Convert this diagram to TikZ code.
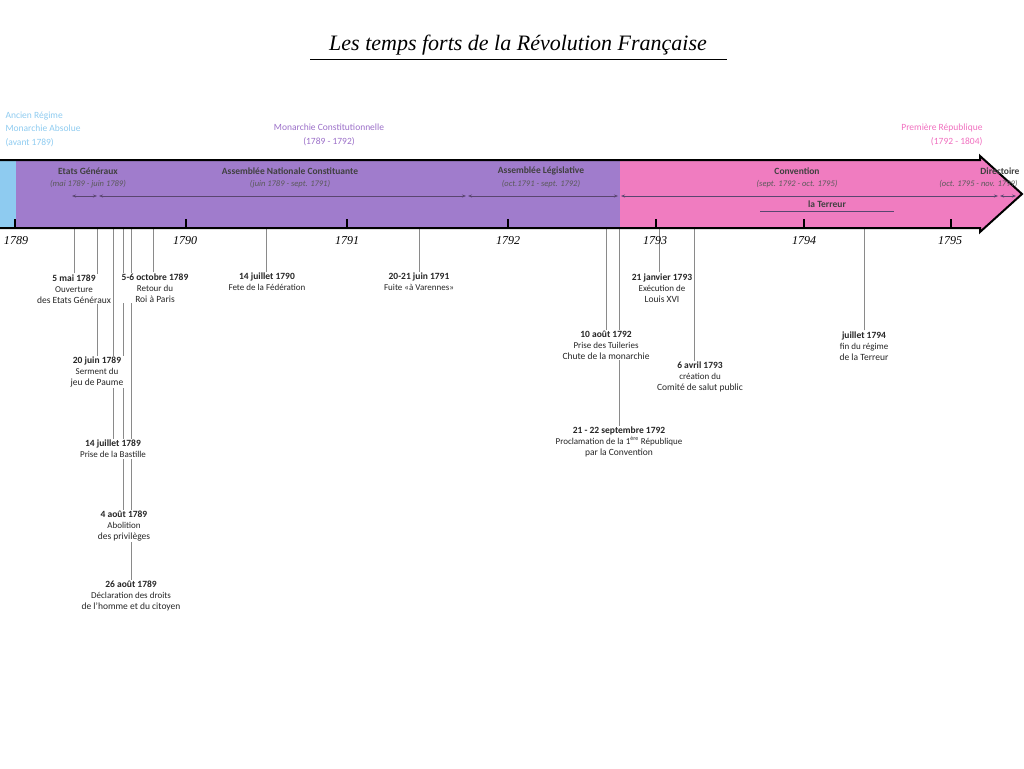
\documentclass[tikz,border=0pt]{standalone}
\usepackage{fontspec}
\setmainfont{Carlito}
\newfontfamily\titlefont{Liberation Serif}
\usetikzlibrary{arrows.meta}
\pgfdeclarelayer{bg}
\pgfsetlayers{bg,main}
\definecolor{bandpurple}{HTML}{A07CCC}
\definecolor{bandpink}{HTML}{F07CC0}
\definecolor{bandblue}{HTML}{8ECBF0}
\definecolor{txtpurple}{HTML}{9B6FC8}
\definecolor{txtpink}{HTML}{F06FBF}
\definecolor{spanc}{HTML}{5A4670}
\definecolor{evc}{HTML}{8A8A8A}
\tikzset{
  year/.style={font=\fontsize{12}{12}\selectfont\titlefont\itshape, anchor=center},
  tick/.style={line width=2pt},
  span/.style={<->, >={Stealth[length=4pt,width=3pt]}, draw=spanc, line width=0.6pt},
  evline/.style={->, >={Stealth[length=5pt,width=4pt]}, draw=evc, line width=1pt},
  evlab/.style={fill=white, align=center, inner sep=1pt, font=\fontsize{9.5}{11}\selectfont, text=black!85},
  bandtitle/.style={font=\fontsize{9.5}{10}\selectfont\bfseries, text=black!75},
  bandsub/.style={font=\fontsize{8.5}{10}\selectfont\itshape, text=black!65},
}
\newcommand{\evtxt}[2]{\textbf{#1}\\\fontsize{9}{10.5}\selectfont #2}
\begin{document}
\begin{tikzpicture}[x=1pt,y=-1pt]
\useasboundingbox (0,0) rectangle (1024,768);
% title
\node[font=\fontsize{22}{24}\selectfont\titlefont\itshape] (title) at (518,45) {Les temps forts de la Révolution Française};
\draw[line width=0.8pt] (310,59) -- (727,59);
% top labels
\node[anchor=west, align=left, text=bandblue, font=\fontsize{9.5}{13.5}\selectfont] (ar) at (2,129) {Ancien Régime\\Monarchie Absolue\\(avant 1789)};
\node[align=center, text=txtpurple, font=\fontsize{9.5}{13.5}\selectfont] (mc) at (329,135) {Monarchie Constitutionnelle\\(1789 - 1792)};
\node[anchor=east, align=right, text=txtpink, font=\fontsize{9.5}{13.5}\selectfont] (pr) at (986,135) {Première République\\(1792 - 1804)};
% band
\fill[bandblue] (0,160) rectangle (16,228);
\fill[bandpurple] (16,160) rectangle (620,228);
\fill[bandpink] (620,160) -- (980,160) -- (980,156) -- (1022,194) -- (980,232) -- (980,228) -- (620,228) -- cycle;
\draw[line width=2pt, line join=miter] (0,160) -- (980,160) -- (980,156) -- (1022,194) -- (980,232) -- (980,228) -- (0,228);
% band texts
\node[bandtitle] (eg) at (88,171) {Etats Généraux};
\node[bandsub] (egs) at (88,184) {(mai 1789 - juin 1789)};
\node[bandtitle] (anc) at (290,171) {Assemblée Nationale Constituante};
\node[bandsub] (ancs) at (290,184) {(juin 1789 - sept. 1791)};
\node[bandtitle] (al) at (541,171) {Assemblée Législative};
\node[bandsub] (als) at (541,184) {(oct.1791 - sept. 1792)};
\node[bandtitle] (cv) at (797,171) {Convention};
\node[bandsub] (cvs) at (797,184) {(sept. 1792 - oct. 1795)};
\node[bandtitle, anchor=east] (dr) at (1023,171) {Directoire};
\node[bandsub, anchor=east] (drs) at (1021,184) {(oct. 1795 - nov. 1799)};
\coordinate (s0) at (72,196); \coordinate (s1) at (97,196); \coordinate (s2) at (99,196);
\coordinate (s3) at (466,196); \coordinate (s4) at (468,196); \coordinate (s5) at (618,196);
\coordinate (s6) at (621,196); \coordinate (s7) at (998,196); \coordinate (s8) at (1000,196); \coordinate (s9) at (1016,196);
\draw[span] (s0) -- (s1); \draw[span] (s2) -- (s3); \draw[span] (s4) -- (s5);
\draw[span] (s6) -- (s7); \draw[span] (s8) -- (s9);
\node[bandtitle] (ter) at (827,204) {la Terreur};
\draw[draw=spanc, line width=0.8pt] (760,211) -- (894,211);
% ticks and years
\foreach \x/\y/\lx in {15/1789/16, 186/1790/185, 347/1791/347, 508/1792/508, 656/1793/655, 804/1794/804, 951/1795/950} {
  \draw[tick] (\x,219) -- (\x,228);
  \node[year] (y\y) at (\lx,241) {\y};
}
% events
\node[evlab] (e1) at (74,289) {\evtxt{5 mai 1789}{Ouverture\\des Etats Généraux}};
\node[evlab] (e2) at (97,372) {\evtxt{20 juin 1789}{Serment du\\jeu de Paume}};
\node[evlab] (e3) at (113,449) {\evtxt{14 juillet 1789}{Prise de la Bastille}};
\node[evlab] (e4) at (124,526) {\evtxt{4 août 1789}{Abolition\\des privilèges}};
\node[evlab] (e5) at (131,596) {\evtxt{26 août 1789}{Déclaration des droits\\de l'homme et du citoyen}};
\node[evlab] (e6) at (155,288) {\evtxt{5-6 octobre 1789}{Retour du\\Roi à Paris}};
\node[evlab] (e7) at (267,282) {\evtxt{14 juillet 1790}{Fete de la Fédération}};
\node[evlab] (e8) at (419,282) {\evtxt{20-21 juin 1791}{Fuite «à Varennes»}};
\node[evlab] (e9) at (606,345) {\evtxt{10 août 1792}{Prise des Tuileries\\Chute de la monarchie}};
\node[evlab] (e10) at (619,442) {\evtxt{21 - 22 septembre 1792}{Proclamation de la 1\textsuperscript{ère} République\\par la Convention}};
\node[evlab] (e11) at (662,288) {\evtxt{21 janvier 1793}{Exécution de\\Louis XVI}};
\node[evlab] (e12) at (700,377) {\evtxt{6 avril 1793}{création du\\Comité de salut public}};
\node[evlab] (e13) at (864,346) {\evtxt{juillet 1794}{fin du régime\\de la Terreur}};
\foreach \n/\x in {1/74,2/97,3/113,4/123,5/131,6/153,7/266,8/419,9/606,10/619,11/659,12/694,13/864} {
  \coordinate (t\n) at (\x,217);
}
\begin{pgfonlayer}{bg}
\foreach \n in {1,...,13} {
  \draw[evline] (e\n.north -| t\n) -- (t\n);
}
\end{pgfonlayer}
\end{tikzpicture}
\end{document}
